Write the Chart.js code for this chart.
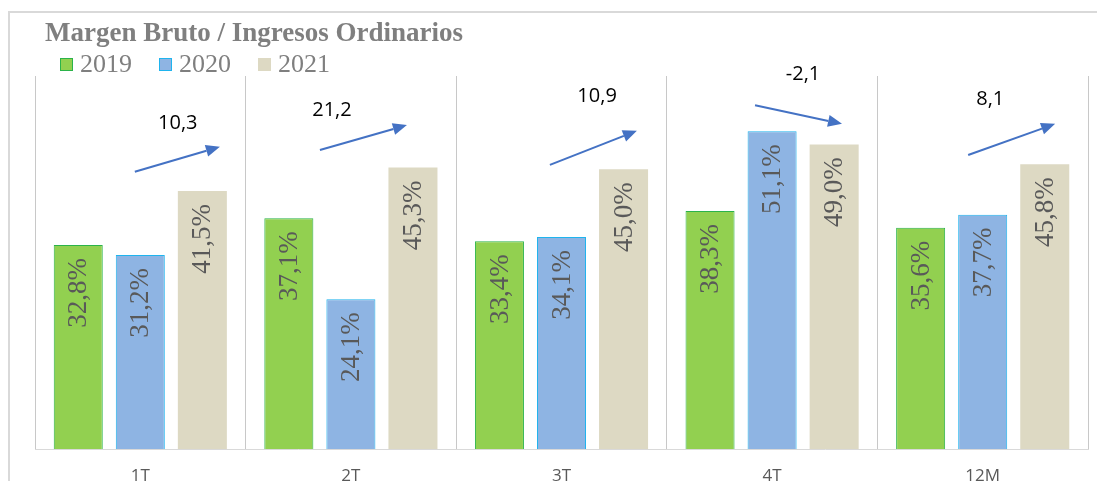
<!DOCTYPE html>
<html>
<head>
<meta charset="utf-8">
<script src="https://cdn.jsdelivr.net/npm/chart.js@4.4.0/dist/chart.umd.min.js"></script>
<style>
  html, body { margin: 0; padding: 0; background: #ffffff; }
  #wrap { position: relative; width: 1097px; height: 481px; }
  canvas { display: block; }
</style>
</head>
<body>
<div id="wrap"><canvas id="c" width="1097" height="481"></canvas></div>
<script>
// ---- data ----
const categories = ['1T', '2T', '3T', '4T', '12M'];
const seriesNames = ['2019', '2020', '2021'];
const values2019 = [32.8, 37.1, 33.4, 38.3, 35.6];
const values2020 = [31.2, 24.1, 34.1, 51.1, 37.7];
const values2021 = [41.5, 45.3, 45.0, 49.0, 45.8];
const changeLabels = ['10,3', '21,2', '10,9', '-2,1', '8,1'];
const chartTitle = 'Margen Bruto / Ingresos Ordinarios';

// ---- annotation placement (in axis units / category fractions) ----
const arrowCfg = {
  fromY: [44.6, 48.1, 45.7, 55.3, 47.3],
  toY:   [48.6, 52.1, 51.2, 52.3, 52.3],
  fromX: [-0.026, -0.147, -0.055, -0.081, -0.069],
  toX:   [0.378, 0.266, 0.358, 0.332, 0.344],
  labelY: [52.4, 54.5, 56.8, 60.2, 56.2],
  labelX: [0.178, -0.09, 0.169, 0.147, 0.036]
};

const fmt = v => v.toFixed(1).replace('.', ',') + '%';
const SERIF = '"Liberation Serif", "Times New Roman", "DejaVu Serif", serif';
const SANS = '"Open Sans", "Liberation Sans", sans-serif';

const colors = {
  fill: ['#92d050', '#8eb4e3', '#ddd9c3'],
  border: ['#2bb34a', '#1fb4ee', '#ddd9c3']
};

const framePlugin = {
  id: 'frame',
  beforeDraw(chart) {
    const ctx = chart.ctx;
    ctx.save();
    ctx.fillStyle = '#ffffff';
    ctx.fillRect(0, 0, chart.width, chart.height);
    ctx.strokeStyle = '#d9d9d9';
    ctx.lineWidth = 2;
    ctx.beginPath();
    ctx.moveTo(9, 481);
    ctx.lineTo(9, 12);
    ctx.lineTo(1097, 12);
    ctx.stroke();
    // title
    ctx.fillStyle = '#7f7f7f';
    ctx.font = 'bold 27px ' + SERIF;
    ctx.textAlign = 'left';
    ctx.textBaseline = 'middle';
    ctx.fillText(chartTitle, 45, 34);
    // legend
    const legendX = [60, 159, 258];
    ctx.font = '26px ' + SERIF;
    seriesNames.forEach((name, i) => {
      const x = legendX[i];
      ctx.fillStyle = colors.fill[i];
      ctx.fillRect(x, 58, 13, 13);
      ctx.strokeStyle = colors.border[i];
      ctx.lineWidth = 1;
      ctx.strokeRect(x + 0.5, 58.5, 12, 12);
      ctx.fillStyle = '#7f7f7f';
      ctx.fillText(name, x + 20, 65);
    });
    ctx.restore();
  }
};

const labelPlugin = {
  id: 'barLabels',
  afterDatasetsDraw(chart) {
    const ctx = chart.ctx;
    ctx.save();
    ctx.fillStyle = '#595959';
    ctx.font = '27px ' + SERIF;
    ctx.textAlign = 'right';
    ctx.textBaseline = 'middle';
    chart.data.datasets.forEach((ds, di) => {
      const meta = chart.getDatasetMeta(di);
      meta.data.forEach((bar, i) => {
        ctx.save();
        ctx.translate(bar.x, bar.y + 13);
        ctx.rotate(-Math.PI / 2);
        ctx.fillText(fmt(ds.data[i]), 0, 1);
        ctx.restore();
      });
    });
    ctx.restore();
  }
};

const arrowPlugin = {
  id: 'arrows',
  afterDatasetsDraw(chart) {
    const ctx = chart.ctx;
    const xs = chart.scales.x, ys = chart.scales.y;
    const cw = (xs.right - xs.left) / categories.length;
    ctx.save();
    categories.forEach((c, i) => {
      const cx = xs.getPixelForValue(i);
      const x1 = cx + arrowCfg.fromX[i] * cw, y1 = ys.getPixelForValue(arrowCfg.fromY[i]);
      const x2 = cx + arrowCfg.toX[i] * cw, y2 = ys.getPixelForValue(arrowCfg.toY[i]);
      const ang = Math.atan2(y2 - y1, x2 - x1);
      const hl = 14, hw = 6;
      const bx = x2 - hl * Math.cos(ang), by = y2 - hl * Math.sin(ang);
      ctx.strokeStyle = '#4472c4';
      ctx.fillStyle = '#4472c4';
      ctx.lineWidth = 2;
      ctx.beginPath();
      ctx.moveTo(x1, y1);
      ctx.lineTo(bx, by);
      ctx.stroke();
      ctx.beginPath();
      ctx.moveTo(x2, y2);
      ctx.lineTo(bx + hw * Math.sin(ang), by - hw * Math.cos(ang));
      ctx.lineTo(bx - hw * Math.sin(ang), by + hw * Math.cos(ang));
      ctx.closePath();
      ctx.fill();
      // label
      ctx.fillStyle = '#000000';
      ctx.font = '20px ' + SANS;
      ctx.textAlign = 'center';
      ctx.textBaseline = 'middle';
      ctx.fillText(changeLabels[i], cx + arrowCfg.labelX[i] * cw, ys.getPixelForValue(arrowCfg.labelY[i]));
    });
    ctx.restore();
  }
};

const series = [values2019, values2020, values2021];

new Chart(document.getElementById('c'), {
  type: 'bar',
  data: {
    labels: categories,
    datasets: series.map((vals, i) => ({
      label: seriesNames[i],
      data: vals,
      backgroundColor: colors.fill[i],
      borderColor: colors.border[i],
      borderWidth: i === 2 ? 0 : { top: 1, left: 1, right: 1, bottom: 0 },
      borderSkipped: 'bottom',
      categoryPercentage: 0.884,
      barPercentage: 0.79
    }))
  },
  options: {
    responsive: false,
    animation: false,
    devicePixelRatio: 1,
    layout: { padding: { left: 35, right: 9, top: 76, bottom: 0 } },
    plugins: {
      legend: { display: false },
      title: { display: false },
      tooltip: { enabled: false }
    },
    scales: {
      x: {
        offset: true,
        afterFit(scale) { scale.height = 32; },
        grid: { display: true, offset: true, color: '#c8c8c8', lineWidth: 1, drawTicks: false },
        border: { display: true, color: '#d9d9d9', width: 1 },
        ticks: {
          color: '#595959',
          padding: 17,
          font: { family: SANS, size: 17 }
        }
      },
      y: {
        display: false,
        min: 0,
        max: 60
      }
    }
  },
  plugins: [framePlugin, labelPlugin, arrowPlugin]
});
</script>
</body>
</html>
